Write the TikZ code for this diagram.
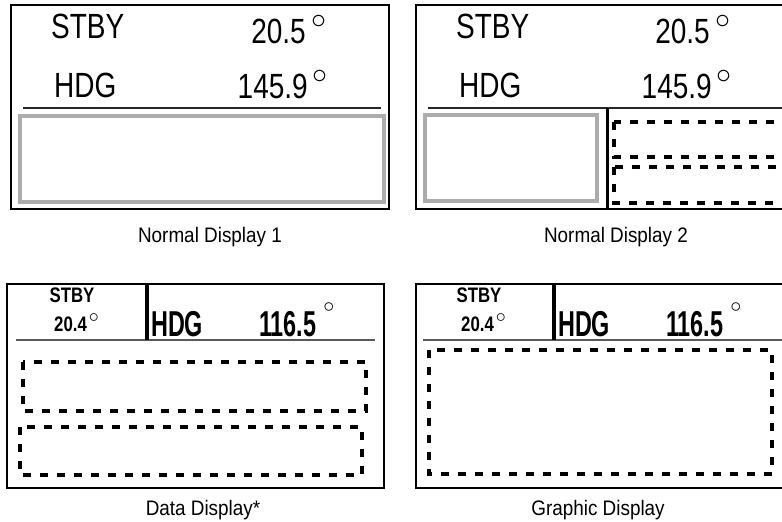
\documentclass[tikz,border=0pt]{standalone}
\usepackage{fontspec,graphicx}
\setmainfont{Liberation Sans}
\newfontfamily\dispfont{Liberation Sans}[FakeStretch=0.8]
\newfontfamily\bolddisp{Liberation Sans}[FakeStretch=0.65]
\newfontfamily\capfont{Liberation Sans}[FakeStretch=0.9]
\usetikzlibrary{positioning}
% degree mark: space, raise, scale
\newcommand{\degsym}[3]{\hspace{#1}\raisebox{#2}[0pt][0pt]{\scalebox{#3}{\fontsize{10}{12}\selectfont$\circ$}}}
\tikzset{
  dispbox/.style={draw=black,line width=1.3pt},
  sepline/.style={draw=black!85,line width=1.5pt},
  grayblk/.style={draw=gray!65,line width=4pt},
  dashblk/.style={draw=black,line width=3.2pt,dash pattern=on 8pt off 9pt},
  divider/.style={draw=black,line width=4pt},
  bigtxt/.style={font=\dispfont\fontsize{35}{40}\selectfont,inner sep=0pt},
  bhdr/.style={font=\bolddisp\bfseries\fontsize{36}{40}\selectfont,inner sep=0pt},
  shdr/.style={font=\dispfont\bfseries\fontsize{21}{24}\selectfont,inner sep=0pt},
  dcap/.style={font=\capfont\fontsize{21}{24}\selectfont,inner sep=0pt}
}

\begin{document}
\begin{tikzpicture}[x=1pt,y=-1pt]
  \useasboundingbox (0,0) rectangle (782,522);
  \clip (0,0) rectangle (782,522);

  % Normal Display 1
  \draw[dispbox] (11,5) rectangle (389,209);
  \draw[sepline] (23,108) -- (381,108);
  \draw[grayblk] (20,116) rectangle (384,202);
  \node[bigtxt, anchor=base west] (stby1) at (51,38) {STBY};
  \node[bigtxt, anchor=base east] (stbyval1) at (327,43) {20.5\degsym{6pt}{15pt}{3}};
  \node[bigtxt, anchor=base west] (hdg1) at (54,97) {HDG};
  \node[bigtxt, anchor=base east] (hdgval1) at (328,98) {145.9\degsym{5pt}{14pt}{3}};
  \node[dcap, anchor=base] (lbl1) at (210,242) {Normal Display 1};

  % Normal Display 2
  \draw[dispbox] (416,5) rectangle (800,209);
  \draw[sepline] (428,108) -- (800,108);
  \draw[divider, line width=3pt] (607,108) -- (607,209);
  \draw[grayblk] (425,115) rectangle (597,201);
  \draw[dashblk] (614,122) rectangle (795,157);
  \draw[dashblk] (614,167) rectangle (795,203);
  \node[bigtxt, anchor=base west] (stby2) at (456,38) {STBY};
  \node[bigtxt, anchor=base east] (stbyval2) at (731,43) {20.5\degsym{6pt}{15pt}{3}};
  \node[bigtxt, anchor=base west] (hdg2) at (459,97) {HDG};
  \node[bigtxt, anchor=base east] (hdgval2) at (732,98) {145.9\degsym{5pt}{14pt}{3}};
  \node[dcap, anchor=base] (lbl2) at (616,242) {Normal Display 2};

  % Data Display
  \draw[dispbox] (7,284) rectangle (384,488);
  \draw[sepline, draw=black!65, line width=1.3pt] (16,340) -- (375,340);
  \draw[divider] (147,284) -- (147,340);
  \draw[dashblk] (23,362) rectangle (366,411);
  \draw[dashblk] (20,427) rectangle (362,475);
  \node[shdr, anchor=base] (stby3) at (72,302) {STBY};
  \node[shdr, anchor=base west] (stbyval3) at (54,331) {20.4\degsym{2pt}{9pt}{2}};
  \node[bhdr, anchor=base west] (hdg3) at (151,336) {HDG};
  \node[bhdr, anchor=base west] (hdgval3) at (259,336) {116.5\degsym{7pt}{24pt}{2.2}};
  \node[dcap, anchor=base] (lbl3) at (203,515) {Data Display*};

  % Graphic Display
  \draw[dispbox] (416,284) rectangle (800,488);
  \draw[sepline, draw=black!65, line width=1.3pt] (423,340) -- (800,340);
  \draw[divider] (554,284) -- (554,340);
  \draw[dashblk] (429,350) rectangle (772,474);
  \node[shdr, anchor=base] (stby4) at (479,302) {STBY};
  \node[shdr, anchor=base west] (stbyval4) at (461,331) {20.4\degsym{2pt}{9pt}{2}};
  \node[bhdr, anchor=base west] (hdg4) at (558,336) {HDG};
  \node[bhdr, anchor=base west] (hdgval4) at (666,336) {116.5\degsym{7pt}{24pt}{2.2}};
  \node[dcap, anchor=base] (lbl4) at (598,515) {Graphic Display};

\end{tikzpicture}
\end{document}
